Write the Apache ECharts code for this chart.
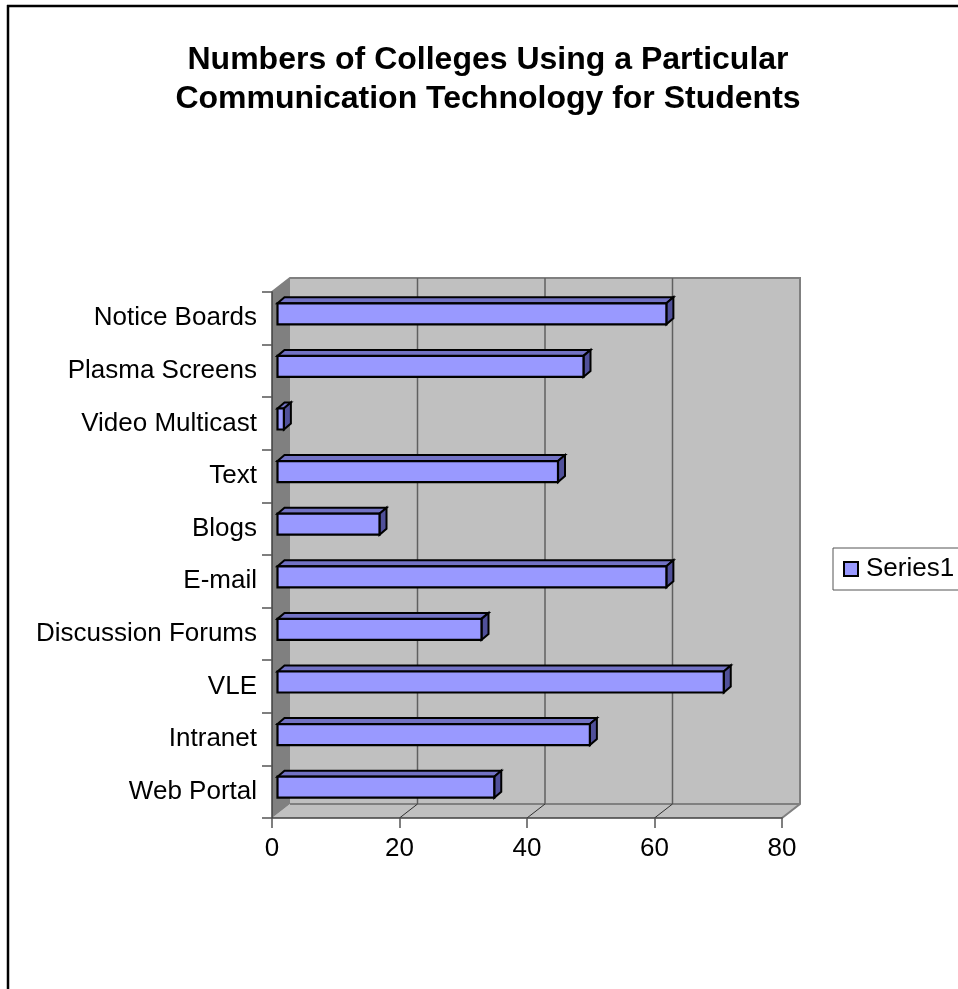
<!DOCTYPE html>
<html>
<head>
<meta charset="utf-8">
<style>html,body{margin:0;padding:0;background:#fff}#chart{width:958px;height:989px}</style>
<script src="https://cdn.jsdelivr.net/npm/echarts@6/dist/echarts.min.js"></script>
</head>
<body>
<div id="chart"></div>
<script>
// Bottom-to-top order, as the category axis runs upward.
const categories = ['Web Portal','Intranet','VLE','Discussion Forums','E-mail','Blogs','Text','Video Multicast','Plasma Screens','Notice Boards'];
const seriesValues = [34,49,70,32,61,16,44,1,48,61];
const gridTicks = [20,40,60];
const chartTitle = 'Numbers of Colleges Using a Particular\nCommunication Technology for Students';
const xMax = 80, xStep = 20;

// Pseudo-3D depth of the plot box and of each bar, in pixels.
const boxDepth = {x: 18, y: -14};
const barOffset = {x: 5.5, y: -4.5};
const barDepth = {x: 7, y: -6};

const chart = echarts.init(document.getElementById('chart'), null, {renderer: 'canvas'});

function poly(points, fill, stroke, lineWidth) {
  return {type: 'polygon', shape: {points}, style: {fill, stroke: stroke || null, lineWidth: lineWidth || 0}};
}

// Side wall, back wall and floor of the box.
function renderWalls(params, api) {
  const a = api.coord([0, 0]);
  const band = api.size([0, 1])[1];
  const x0 = a[0];
  const x1 = api.coord([xMax, 0])[0];
  const yb = a[1] + band / 2;
  const yt = yb - band * categories.length;
  const dx = boxDepth.x, dy = boxDepth.y;
  return {type: 'group', children: [
    poly([[x0 + dx, yt + dy], [x1 + dx, yt + dy], [x1 + dx, yb + dy], [x0 + dx, yb + dy]], '#c0c0c0'),
    poly([[x0, yb], [x0 + dx, yb + dy], [x1 + dx, yb + dy], [x1, yb]], '#c0c0c0'),
    poly([[x0, yt], [x0 + dx, yt + dy], [x0 + dx, yb + dy], [x0, yb]], '#808080'),
    {type: 'polyline', shape: {points: [[x0, yt], [x0 + dx, yt + dy], [x1 + dx, yt + dy], [x1 + dx, yb + dy], [x1, yb]]},
      style: {fill: null, stroke: '#808080', lineWidth: 2}},
    {type: 'line', shape: {x1: x0 + dx, y1: yb + dy, x2: x1 + dx, y2: yb + dy}, style: {stroke: '#808080', lineWidth: 2}}
  ]};
}

// Gridline up the back wall plus its diagonal across the floor.
function renderGridline(params, api) {
  const v = api.value(0);
  const a = api.coord([v, 0]);
  const band = api.size([0, 1])[1];
  const yb = a[1] + band / 2;
  const yt = yb - band * categories.length;
  const x = a[0], dx = boxDepth.x, dy = boxDepth.y;
  return {type: 'group', children: [
    {type: 'line', shape: {x1: x + dx, y1: yb + dy, x2: x + dx, y2: yt + dy}, style: {stroke: '#606060', lineWidth: 1.5}},
    {type: 'line', shape: {x1: x, y1: yb, x2: x + dx, y2: yb + dy}, style: {stroke: '#303030', lineWidth: 1}}
  ]};
}

// One extruded bar: top face, end face, then the front.
function renderBar(params, api) {
  const p0 = api.coord([0, api.value(1)]);
  const p1 = api.coord([api.value(0), api.value(1)]);
  const h = api.size([0, 1])[1] * 0.4;
  const l = p0[0] + barOffset.x, r = p1[0] + barOffset.x;
  const t = p0[1] + barOffset.y - h / 2, b = t + h;
  const dx = barDepth.x, dy = barDepth.y;
  const edge = '#000000';
  return {type: 'group', children: [
    poly([[l, t], [l + dx, t + dy], [r + dx, t + dy], [r, t]], '#7272c4', edge, 2),
    poly([[r, t], [r + dx, t + dy], [r + dx, b + dy], [r, b]], '#50509a', edge, 2),
    poly([[l, t], [r, t], [r, b], [l, b]], '#9999ff', edge, 2.2)
  ]};
}

chart.setOption({
  animation: false,
  backgroundColor: '#ffffff',
  title: {
    text: chartTitle,
    left: 483, top: 36, textAlign: 'center',
    textStyle: {fontFamily: 'Liberation Sans', fontWeight: 'bold', fontSize: 32, lineHeight: 39, color: '#000'}
  },
  legend: {
    data: ['Series1'],
    left: 833, top: 548,
    padding: [8, 30, 8, 10],
    borderColor: '#555555', borderWidth: 1,
    itemWidth: 14, itemHeight: 14, itemGap: 0,
    icon: 'rect',
    selectedMode: false,
    itemStyle: {color: '#9999ff', borderColor: '#000', borderWidth: 2},
    textStyle: {fontFamily: 'Liberation Sans', fontSize: 26, color: '#000', padding: [0, 0, 0, 3]}
  },
  grid: {left: 272, top: 292, width: 510, height: 526},
  xAxis: {
    type: 'value', min: 0, max: xMax, interval: xStep, z: 5,
    axisLine: {show: true, onZero: false, lineStyle: {color: '#404040', width: 1.5}},
    axisTick: {show: true, length: 10, lineStyle: {color: '#555555', width: 1.5}},
    axisLabel: {fontFamily: 'Liberation Sans', fontSize: 26, color: '#000', margin: 18, hideOverlap: false},
    splitLine: {show: false}
  },
  yAxis: {
    type: 'category', data: categories, z: 5,
    axisLine: {show: true, lineStyle: {color: '#404040', width: 1.5}},
    axisTick: {show: true, length: 10, alignWithLabel: false, lineStyle: {color: '#555555', width: 1.5}},
    axisLabel: {fontFamily: 'Liberation Sans', fontSize: 26, color: '#000', margin: 15, interval: 0}
  },
  graphic: [
    // Chart-area frame: only the top and left edges fall inside the page.
    {type: 'line', shape: {x1: 7, y1: 6, x2: 958, y2: 6}, style: {stroke: '#000', lineWidth: 2.5}, z: 10},
    {type: 'line', shape: {x1: 8, y1: 5, x2: 8, y2: 989}, style: {stroke: '#000', lineWidth: 2.5}, z: 10}
  ],
  series: [
    {type: 'custom', name: 'walls', z: 1, silent: true, clip: false, renderItem: renderWalls, data: [[0, 0]], encode: {x: 0, y: 1}},
    {type: 'custom', name: 'gridlines', z: 2, silent: true, clip: false, renderItem: renderGridline, data: gridTicks.map(v => [v, 0]), encode: {x: 0, y: 1}},
    {type: 'custom', name: 'Series1', z: 3, clip: false, renderItem: renderBar,
      itemStyle: {color: '#9999ff'},
      data: seriesValues.map((v, i) => [v, i]), encode: {x: 0, y: 1}}
  ]
});
</script>
</body>
</html>
